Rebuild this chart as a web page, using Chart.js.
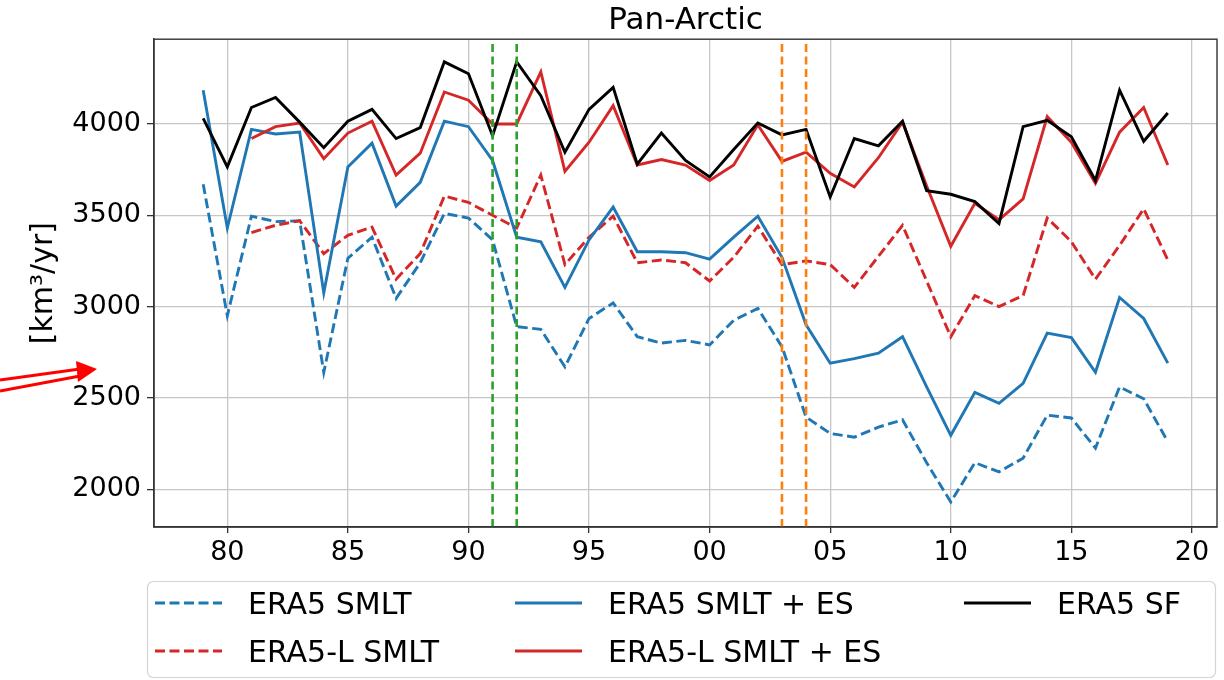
<!DOCTYPE html>
<html><head><meta charset="utf-8">
<script src="https://cdn.jsdelivr.net/npm/chart.js@4/dist/chart.umd.min.js"></script>
<style>html,body{margin:0;padding:0;background:#fff;}canvas{display:block;}</style>
</head><body>
<canvas id="c" width="1224" height="680"></canvas>
<script>
const years = [1979,1980,1981,1982,1983,1984,1985,1986,1987,1988,1989,1990,1991,1992,1993,1994,1995,1996,1997,1998,1999,2000,2001,2002,2003,2004,2005,2006,2007,2008,2009,2010,2011,2012,2013,2014,2015,2016,2017,2018,2019];
const era5Smlt = [3670,2950,3495,3465,3470,2640,3265,3380,3045,3240,3510,3485,3365,2890,2875,2670,2935,3020,2835,2800,2815,2790,2925,2990,2780,2395,2305,2285,2340,2380,2145,1930,2145,2095,2170,2405,2390,2225,2560,2495,2260];
const era5lSmlt = [null,null,3405,3445,3470,3290,3390,3435,3150,3290,3605,3570,3500,3430,3720,3230,3380,3495,3240,3255,3240,3140,3270,3440,3230,3250,3230,3105,3275,3445,3140,2835,3060,3000,3060,3485,3355,3150,3335,3535,3255];
const era5SmltEs = [4185,3430,3970,3945,3955,3075,3765,3895,3550,3680,4015,3985,3800,3380,3355,3105,3365,3545,3300,3300,3295,3260,3380,3495,3270,2900,2690,2715,2745,2835,2560,2295,2530,2470,2580,2855,2830,2640,3050,2935,2690];
const era5lSmltEs = [null,null,3920,3985,4005,3810,3950,4015,3720,3840,4175,4130,4000,4000,4285,3740,3900,4100,3775,3805,3775,3690,3775,3995,3795,3845,3730,3655,3815,4010,3660,3330,3565,3475,3590,4040,3900,3675,3955,4090,3775];
const era5Sf = [4030,3765,4090,4145,4010,3870,4015,4080,3920,3980,4340,4275,3935,4340,4155,3845,4080,4200,3780,3950,3800,3710,3860,4005,3940,3970,3600,3920,3880,4015,3635,3615,3575,3455,3985,4020,3930,3690,4185,3905,4060];
const greenLines = [1991,1992];
const orangeLines = [2003,2004];
const xTicks = [1980,1985,1990,1995,2000,2005,2010,2015,2020];
const xTickLabels = ['80','85','90','95','00','05','10','15','20'];
const yTicks = [2000,2500,3000,3500,4000];
const yTickLabels = ['2000','2500','3000','3500','4000'];
const xRange = [1976.96, 2021.04];
const yRange = [1793, 4464];
const titleText = 'Pan-Arctic';
const yTitle = '[km\u00B3/yr]';

const BLUE='#1f77b4', RED='#d62728', BLACK='#000000', GREEN='#2ca02c', ORANGE='#ff7f0e';
const LW = 2.9, DASH=[10,4.5];

function pts(vals){ return years.map((yr,i)=>({x:yr,y:vals[i]})); }
function series(label, vals, color, dashed, order, legendIdx){
  return {label, data:pts(vals), borderColor:color, backgroundColor:color, borderWidth:LW,
    borderDash: dashed?DASH:[], pointRadius:0, tension:0, fill:false, order, legendIdx, spanGaps:false,
    borderCapStyle:'butt', borderJoinStyle:'miter'};
}
function vline(x, color){
  return {label:'', data:[{x:x,y:yRange[0]},{x:x,y:yRange[1]}], borderColor:color, borderWidth:2.6,
    borderDash:[8,4.5], pointRadius:0, order:0, fill:false};
}
const datasets = [
  series('ERA5 SMLT', era5Smlt, BLUE, true, 5, 0),
  series('ERA5-L SMLT', era5lSmlt, RED, true, 4, 1),
  series('ERA5 SMLT + ES', era5SmltEs, BLUE, false, 3, 2),
  series('ERA5-L SMLT + ES', era5lSmltEs, RED, false, 2, 3),
  series('ERA5 SF', era5Sf, BLACK, false, 1, 4),
  ...greenLines.map(x=>vline(x, GREEN)),
  ...orangeLines.map(x=>vline(x, ORANGE))
];

const framePlugin = {
  id:'frame',
  afterDatasetsDraw(chart){
    const {ctx, chartArea:a} = chart;
    ctx.save();
    ctx.strokeStyle='#333'; ctx.lineWidth=1.4;
    ctx.strokeRect(a.left, a.top, a.right-a.left, a.bottom-a.top);
    ctx.restore();
  }
};

const legendPlugin = {
  id:'colLegend',
  afterDraw(chart){
    const ctx = chart.ctx;
    ctx.save();
    const bx=147.5, by=581.5, bw=1068, bh=96;
    ctx.beginPath();
    ctx.roundRect(bx,by,bw,bh,6);
    ctx.fillStyle='rgba(255,255,255,0.85)'; ctx.fill();
    ctx.strokeStyle='#d4d4d4'; ctx.lineWidth=1.2; ctx.stroke();
    const colText=[248,608,1057];
    const rowY=[605,653];
    const items = chart.data.datasets.filter(d=>d.legendIdx!==undefined).sort((a,b)=>a.legendIdx-b.legendIdx);
    ctx.font = "30px 'DejaVu Sans'";
    ctx.textBaseline='middle';
    ctx.textAlign='left';
    items.forEach((d,i)=>{
      const c = Math.floor(i/2), r = i%2;
      const tx = colText[c], y = rowY[r];
      const lx0 = tx-93, lx1 = tx-26;
      ctx.beginPath();
      ctx.setLineDash(d.borderDash||[]);
      ctx.strokeStyle=d.borderColor; ctx.lineWidth=d.borderWidth;
      ctx.moveTo(lx0,y-2); ctx.lineTo(lx1,y-2); ctx.stroke();
      ctx.setLineDash([]);
      ctx.fillStyle='#000';
      ctx.fillText(d.label, tx, y+1);
    });
    ctx.restore();
  }
};

const arrowPlugin = {
  id:'arrow',
  afterDraw(chart){
    const ctx = chart.ctx;
    ctx.save();
    ctx.strokeStyle='#ff0000'; ctx.fillStyle='#ff0000'; ctx.lineWidth=3;
    ctx.beginPath(); ctx.moveTo(0,380); ctx.lineTo(80,369); ctx.stroke();
    ctx.beginPath(); ctx.moveTo(0,391); ctx.lineTo(80,376); ctx.stroke();
    ctx.beginPath(); ctx.moveTo(76,361); ctx.lineTo(97,369); ctx.lineTo(78,382); ctx.closePath(); ctx.fill();
    ctx.restore();
  }
};

Chart.defaults.font.family = "'DejaVu Sans', sans-serif";
Chart.defaults.color = '#000';

new Chart(document.getElementById('c').getContext('2d'), {
  type:'line',
  data:{datasets},
  options:{
    responsive:false, animation:false, events:[],
    layout:{padding:{left:0,right:7,top:0,bottom:102}},
    plugins:{
      legend:{display:false}, tooltip:{enabled:false},
      title:{display:true, text:titleText, fullSize:false, color:'#000',
        font:{size:31, weight:'normal'}, padding:{top:2,bottom:0}}
    },
    scales:{
      x:{type:'linear', min:xRange[0], max:xRange[1],
        afterBuildTicks(s){ s.ticks = xTicks.map(v=>({value:v})); },
        afterFit(s){ s.height = 51; },
        ticks:{callback:(v,i)=>xTickLabels[i], font:{size:27}, color:'#000', padding:4, maxRotation:0, autoSkip:false},
        grid:{color:'#c6c6c6', lineWidth:1.3, tickColor:'#333', tickLength:6, tickWidth:1.3},
        border:{color:'#333', width:1.4}
      },
      y:{type:'linear', min:yRange[0], max:yRange[1],
        afterBuildTicks(s){ s.ticks = yTicks.map(v=>({value:v})); },
        afterFit(s){ s.width = 154; },
        ticks:{callback:(v,i)=>yTickLabels[i], font:{size:27}, color:'#000', padding:6, autoSkip:false},
        grid:{color:'#c6c6c6', lineWidth:1.3, tickColor:'#333', tickLength:7, tickWidth:1.3},
        border:{color:'#333', width:1.4},
        title:{display:true, text:yTitle, color:'#000', font:{size:30, weight:'normal'}, padding:{top:26,bottom:0}}
      }
    }
  },
  plugins:[framePlugin, legendPlugin, arrowPlugin]
});
</script>
</body></html>
